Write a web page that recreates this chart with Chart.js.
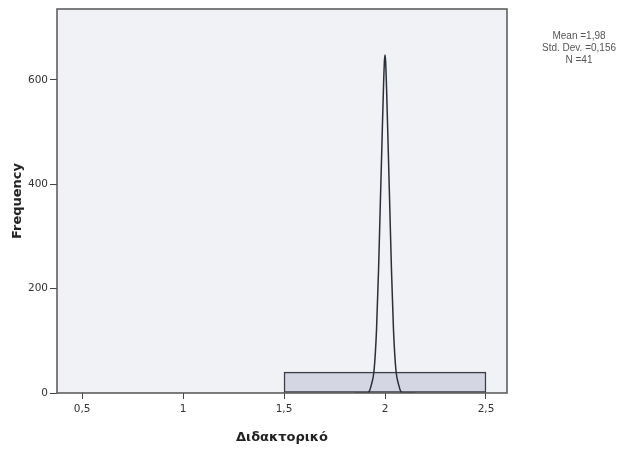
<!DOCTYPE html>
<html>
<head>
<meta charset="utf-8">
<script src="https://cdn.jsdelivr.net/npm/chart.js@4"></script>
<style>
  html, body { margin: 0; padding: 0; background: #fff; }
  #wrap { position: relative; width: 637px; height: 451px; }
  #stats {
    position: absolute; left: 526px; top: 30px; width: 106px;
    font: 10px "Liberation Sans", Arial, sans-serif; color: #555;
    text-align: center; line-height: 12px;
  }
</style>
</head>
<body>
<div id="wrap">
  <canvas id="chart" width="637" height="451"></canvas>
  <div id="stats">Mean =1,98<br>Std. Dev. =0,156<br>N =41</div>
</div>
<script>
// histogram bins (centre of each bin, width 1) and counts
const binCentres = [1, 2];
const binCounts = [1, 40];

// normal curve
const curveX = [1.85, 1.912, 1.922, 1.932, 1.946, 1.958, 1.968, 1.976, 1.984, 1.992, 1.997, 2.0,
                2.003, 2.008, 2.016, 2.024, 2.032, 2.042, 2.054, 2.068, 2.078, 2.088, 2.15];
const curveY = [0, 0, 3, 15, 44, 121, 236, 351, 466, 580, 636, 648,
                636, 580, 466, 351, 236, 121, 44, 15, 3, 0, 0];

const xTicks = [0.5, 1, 1.5, 2, 2.5];
const yTicks = [0, 200, 400, 600];

const plotFrame = {
    id: 'plotFrame',
    beforeDraw(chart) {
        const { ctx, chartArea: a } = chart;
        ctx.save();
        ctx.fillStyle = '#f0f2f6';
        ctx.fillRect(a.left, a.top, a.right - a.left, a.bottom - a.top);
        ctx.restore();
    },
    afterDraw(chart) {
        const { ctx, chartArea: a } = chart;
        ctx.save();
        ctx.strokeStyle = '#555';
        ctx.lineWidth = 1.5;
        ctx.strokeRect(a.left, a.top, a.right - a.left, a.bottom - a.top);
        ctx.restore();
    }
};

const tickFont = { family: '"DejaVu Sans", Arial, sans-serif', size: 10.5 };
const titleFont = { family: '"DejaVu Sans", Arial, sans-serif', size: 13, weight: 'bold' };
const xMin = 0.376, xMax = 2.604;

new Chart(document.getElementById('chart').getContext('2d'), {
    type: 'bar',
    data: {
        datasets: [{
            type: 'line',
            data: curveX.map((x, i) => ({ x: x, y: curveY[i] })),
            borderColor: '#2b2f38',
            borderWidth: 1.5,
            pointRadius: 0,
            cubicInterpolationMode: 'monotone',
            fill: false,
            order: 0
        }, {
            type: 'bar',
            xAxisID: 'xBins',
            data: binCentres.map((x, i) => ({ x: x, y: binCounts[i] })),
            backgroundColor: '#d4d6e4',
            borderColor: '#3a3d45',
            borderWidth: 1.5,
            borderSkipped: false,
            barPercentage: 1,
            categoryPercentage: 1,
            order: 1
        }]
    },
    options: {
        responsive: false,
        animation: false,
        layout: { padding: { top: 9, right: 130, left: 0, bottom: 0 } },
        plugins: { legend: { display: false }, tooltip: { enabled: false } },
        scales: {
            xBins: {
                type: 'linear',
                display: false,
                offset: false,
                min: xMin,
                max: xMax,
                afterBuildTicks: s => { s.ticks = binCentres.map(v => ({ value: v })); }
            },
            x: {
                type: 'linear',
                offset: false,
                min: xMin,
                max: xMax,
                afterBuildTicks: s => { s.ticks = xTicks.map(v => ({ value: v })); },
                afterFit: s => { s.height = 58; },
                grid: { offset: false, drawOnChartArea: false, tickLength: 6, color: '#444' },
                border: { display: false },
                ticks: {
                    font: tickFont, color: '#333', padding: 4,
                    callback: v => String(v).replace('.', ',')
                },
                title: { display: true, text: 'Διδακτορικό', font: titleFont, color: '#222', padding: { top: 4, bottom: 6 } }
            },
            y: {
                min: 0,
                max: 736,
                afterBuildTicks: s => { s.ticks = yTicks.map(v => ({ value: v })); },
                afterFit: s => { s.width = 57; },
                grid: { drawOnChartArea: false, tickLength: 7, color: '#444' },
                border: { display: false },
                ticks: { font: tickFont, color: '#333', padding: 2 },
                title: { display: true, text: 'Frequency', font: titleFont, color: '#222', padding: { top: 10, bottom: 4 } }
            }
        }
    },
    plugins: [plotFrame]
});
</script>
</body>
</html>
